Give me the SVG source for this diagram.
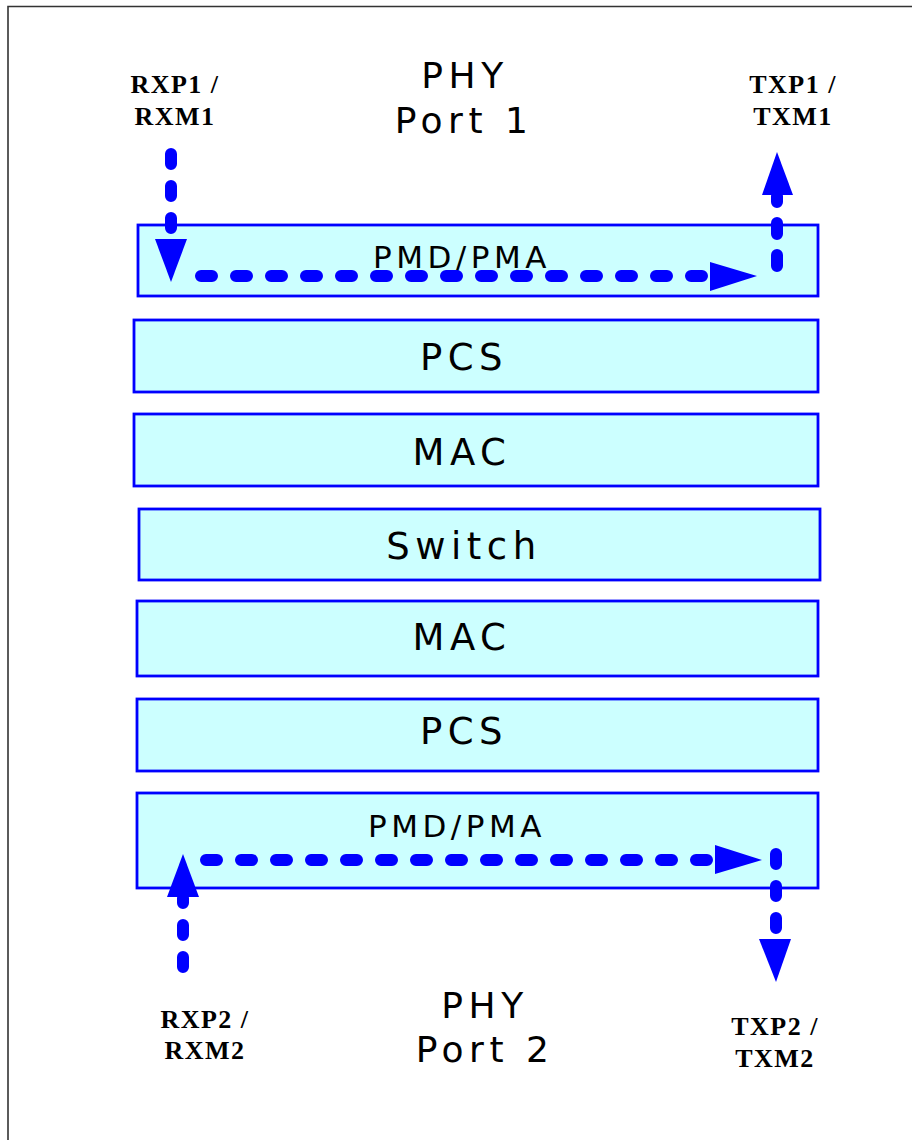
<svg xmlns="http://www.w3.org/2000/svg" width="912" height="1140" viewBox="0 0 912 1140">
<style>
.box{fill:#CCFFFF;stroke:#0000FF;stroke-width:2.8}
.lbl{font-family:"DejaVu Sans",sans-serif;font-size:37px;fill:#000;text-anchor:middle;letter-spacing:5.5px}
.sm{font-size:31px;letter-spacing:4.5px}
.big{font-family:"DejaVu Sans",sans-serif;font-size:36px;fill:#000;text-anchor:middle;letter-spacing:5.5px}
.pin{font-family:"Liberation Serif",serif;font-weight:bold;font-size:26px;fill:#000;text-anchor:middle;letter-spacing:1.5px}
.flow{fill:none;stroke:#0000FF;stroke-width:12;stroke-linecap:round;stroke-dasharray:11 24}
.head{fill:#0000FF}
</style>
<rect x="0" y="0" width="912" height="1140" fill="#fff"/>
<path d="M8 1140 V6.5 H912" fill="none" stroke="#333" stroke-width="1.6"/>

<g id="phy1-label">
<text class="big" x="465" y="88">PHY</text>
<text class="big" x="464" y="133">Port 1</text>
</g>
<g id="pin-rx1"><text class="pin" x="175" y="93">RXP1 /</text><text class="pin" x="175" y="125">RXM1</text></g>
<g id="pin-tx1"><text class="pin" x="793" y="93">TXP1 /</text><text class="pin" x="793" y="125">TXM1</text></g>

<g id="pmd1"><rect class="box" x="138" y="225" width="680" height="71"/><text class="lbl sm" x="462" y="268">PMD/PMA</text></g>
<g id="pcs1"><rect class="box" x="134" y="320" width="684" height="72"/><text class="lbl" x="464" y="370">PCS</text></g>
<g id="mac1"><rect class="box" x="134" y="414" width="684" height="72"/><text class="lbl" x="462" y="465">MAC</text></g>
<g id="switch"><rect class="box" x="139" y="509" width="681" height="71"/><text class="lbl" x="464" y="559">Switch</text></g>
<g id="mac2"><rect class="box" x="137" y="601" width="681" height="75"/><text class="lbl" x="462" y="650">MAC</text></g>
<g id="pcs2"><rect class="box" x="137" y="699" width="681" height="72"/><text class="lbl" x="464" y="744">PCS</text></g>
<g id="pmd2"><rect class="box" x="137" y="793" width="681" height="95"/><text class="lbl sm" x="457" y="837">PMD/PMA</text></g>

<g id="phy2-label">
<text class="big" x="485" y="1018">PHY</text>
<text class="big" x="485" y="1062">Port 2</text>
</g>
<g id="pin-rx2"><text class="pin" x="205" y="1028">RXP2 /</text><text class="pin" x="205" y="1059">RXM2</text></g>
<g id="pin-tx2"><text class="pin" x="775" y="1035">TXP2 /</text><text class="pin" x="775" y="1067">TXM2</text></g>

<g id="connectors">
<path class="flow" d="M171 154 V239" style="stroke-dasharray:10 22"/>
<polygon class="head" points="155,239 187,239 171,282"/>
<path class="flow" d="M201 276 H712"/>
<polygon class="head" points="710,262 757,276 710,291"/>
<path class="flow" d="M777 266 V196" style="stroke-dasharray:11 21"/>
<polygon class="head" points="762,195 793,195 777,152"/>

<path class="flow" d="M206 860 H716"/>
<polygon class="head" points="715,845 762,860 715,874"/>
<path class="flow" d="M183 967 V898" style="stroke-dasharray:10 22"/>
<polygon class="head" points="167,897 199,897 183,854"/>
<path class="flow" d="M776 854 V938" style="stroke-dasharray:10 22"/>
<polygon class="head" points="759,939 791,939 776,982"/>
</g>
</svg>
